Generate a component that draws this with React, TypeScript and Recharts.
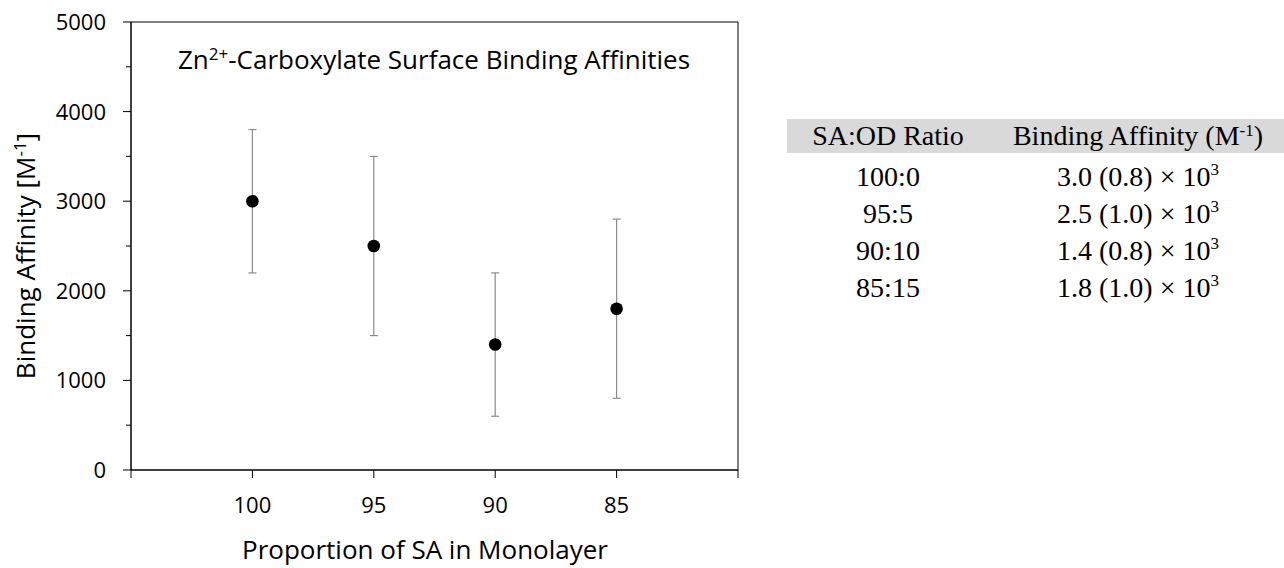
import { Customized, ErrorBar, Label, ReferenceArea, Scatter, ScatterChart, XAxis, YAxis } from 'recharts';

const ratios = ['100', '95', '90', '85'];
const affinity = [3000, 2500, 1400, 1800];
const affinityErr = [800, 1000, 800, 1000];
const xTicks = [0, 1, 2, 3, 4, 5];
const yTicks = [0, 500, 1000, 1500, 2000, 2500, 3000, 3500, 4000, 4500, 5000];

const tableRatios = ['100:0', '95:5', '90:10', '85:15'];
const tableValues = ['3.0 (0.8)', '2.5 (1.0)', '1.4 (0.8)', '1.8 (1.0)'];

const data = ratios.map((r, i) => ({ pos: i + 1, label: r, value: affinity[i], err: affinityErr[i] }));

const SANS = '"Open Sans", sans-serif';
const SERIF = '"Liberation Serif", "Times New Roman", serif';

const YTick = (props: any) => {
    const { x, y, payload } = props;
    const major = payload.value % 1000 === 0;
    return (
        <g>
            <line x1={x - (major ? 8 : 5)} x2={x} y1={y} y2={y} stroke="#000" />
            {major && (
                <text x={x - 25} y={y} dy="0.36em" textAnchor="end" fontFamily={SANS} fontSize={22} fill="#000">
                    {payload.value}
                </text>
            )}
        </g>
    );
};

const XTick = (props: any) => {
    const { x, y, payload } = props;
    const label = ratios[payload.value - 1];
    return (
        <g>
            <line x1={x} x2={x} y1={y} y2={y + 8} stroke="#000" />
            {label && (
                <text x={x} y={y + 43} textAnchor="middle" fontFamily={SANS} fontSize={22} fill="#000">
                    {label}
                </text>
            )}
        </g>
    );
};

// title sits inside the plot, centred over it
const Title = () => (
    <text x={434} y={69} textAnchor="middle" fontFamily={SANS} fontSize={26} fill="#000">
        Zn<tspan dy={-9} fontSize={17}>2+</tspan>
        <tspan dy={9}>-Carboxylate Surface Binding Affinities</tspan>
    </text>
);

const Dot = (props: any) => <circle cx={props.cx} cy={props.cy} r={6.3} fill="#000" />;

const cell = (cx: number, w: number): React.CSSProperties => ({
    position: 'absolute',
    left: cx - w / 2,
    width: w,
    textAlign: 'center',
});

const supStyle: React.CSSProperties = { fontSize: 17, verticalAlign: 'top', lineHeight: '24px' };

export default function App() {
    return (
        <div style={{ position: 'absolute', left: 0, top: 0, width: 1284, height: 568, background: '#fff' }}>
            <ScatterChart width={1284} height={568} margin={{ top: 22, right: 546, bottom: 38, left: 71 }}>
                <ReferenceArea x1={0} x2={5} y1={0} y2={5000} fill="none" stroke="#000" strokeWidth={1} />
                <XAxis
                    type="number"
                    dataKey="pos"
                    domain={[0, 5]}
                    ticks={xTicks}
                    interval={0}
                    height={60}
                    tickSize={0}
                    tickMargin={0}
                    tick={<XTick />}
                    axisLine={{ stroke: '#000' }}
                >
                    <Label
                        content={() => (
                            <text x={425} y={559} textAnchor="middle" fontFamily={SANS} fontSize={26} fill="#000">
                                Proportion of SA in Monolayer
                            </text>
                        )}
                    />
                </XAxis>
                <YAxis
                    type="number"
                    dataKey="value"
                    domain={[0, 5000]}
                    ticks={yTicks}
                    interval={0}
                    width={60}
                    tickSize={0}
                    tickMargin={0}
                    tick={<YTick />}
                    axisLine={{ stroke: '#000' }}
                >
                    <Label
                        content={() => (
                            <text
                                x={35}
                                y={256}
                                transform="rotate(-90 35 256)"
                                textAnchor="middle"
                                fontFamily={SANS}
                                fontSize={26}
                                fill="#000"
                            >
                                Binding Affinity [M<tspan dy={-9} fontSize={17}>-1</tspan>
                                <tspan dy={9}>]</tspan>
                            </text>
                        )}
                    />
                </YAxis>
                <Scatter data={data} shape={<Dot />} isAnimationActive={false}>
                    <ErrorBar dataKey="err" direction="y" width={4} stroke="#8c8c8c" strokeWidth={1.2} />
                </Scatter>
                <Customized component={Title} />
            </ScatterChart>

            <div style={{ position: 'absolute', left: 787, top: 119, width: 497, height: 34, background: '#d9d9d9' }} />
            <div style={{ position: 'absolute', left: 0, top: 0, fontFamily: SERIF, fontSize: 28, color: '#000' }}>
                <div style={{ ...cell(888, 200), top: 119, lineHeight: '34px' }}>SA:OD Ratio</div>
                <div style={{ ...cell(1138, 320), top: 119, lineHeight: '34px' }}>
                    Binding Affinity (M<sup style={supStyle}>-1</sup>)
                </div>
                {tableRatios.map((r, i) => (
                    <div key={r} style={{ ...cell(888, 200), top: 158 + i * 37, lineHeight: '37px' }}>
                        {r}
                    </div>
                ))}
                {tableValues.map((v, i) => (
                    <div key={v + i} style={{ ...cell(1138, 320), top: 158 + i * 37, lineHeight: '37px' }}>
                        {v} × 10<sup style={supStyle}>3</sup>
                    </div>
                ))}
            </div>
        </div>
    );
}
